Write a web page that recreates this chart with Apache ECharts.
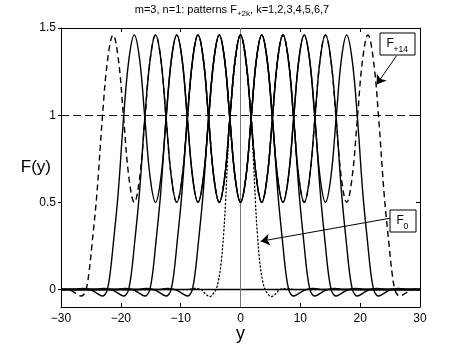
<!DOCTYPE html>
<html>
<head>
<meta charset="utf-8">
<script src="https://cdn.jsdelivr.net/npm/echarts@6/dist/echarts.min.js"></script>
<style>
html,body{margin:0;padding:0;background:#fff;}
#c{width:464px;height:348px;}
</style>
</head>
<body>
<div id="c"></div>
<script>
// ---- data ----
const titleText = ['m=3, n=1: patterns F', '+2k', ', k=1,2,3,4,5,6,7'];
const xTickMin = -30, xTickMax = 30, xTickStep = 10;
const yTickValues = [0, 0.5, 1, 1.5];
const yRange = [-0.1, 1.5];
const refLevelDashed = 1;
const refLevelSolid = 0;

// dotted pattern F0 (single peak)
const pat1 = [[-30,0],[-9,0],[-7.8,0.006],[-6.6,0],[-5.7,-0.03],[-5.1,-0.04],[-4.6,-0.025],[-4.1,0],[-3.7,0.05],[-3.25,0.15],[-2.8,0.33],[-2.5,0.5],[-2.2,0.72],[-1.8,0.98],[-1.4,1.13],[-0.8,1.33],[0,1.46],
  [0.8,1.33],[1.4,1.13],[1.8,0.98],[2.2,0.72],[2.5,0.5],[2.8,0.33],[3.25,0.15],[3.7,0.05],[4.1,0],[4.6,-0.025],[5.1,-0.04],[5.7,-0.03],[6.6,0],[7.8,0.006],[9,0],[30,0]];

// solid patterns
const pat2 = [[-30,0],[-13.75,0],[-12.25,0.006],[-10.95,0],[-9.85,-0.02],[-8.9,-0.037],[-8.45,-0.028],[-8.05,0],[-7.6,0.09],[-7.1,0.25],[-6.25,0.55],[-5.35,0.98],[-4.45,1.32],[-3.55,1.46],
  [-2.66,1.32],[-1.78,0.98],[-0.89,0.64],[0,0.5],[0.89,0.64],[1.78,0.98],[2.66,1.32],[3.55,1.46],
  [4.45,1.32],[5.35,0.98],[6.25,0.55],[7.1,0.25],[7.6,0.09],[8.05,0],[8.45,-0.028],[8.9,-0.037],[9.85,-0.02],[10.95,0],[12.25,0.006],[13.75,0],[30,0]];

const pat3 = [[-30,0],[-17.3,0],[-15.8,0.006],[-14.5,0],[-13.4,-0.02],[-12.45,-0.037],[-12.0,-0.028],[-11.6,0],[-11.15,0.09],[-10.65,0.25],[-9.8,0.55],[-8.9,0.98],[-8.0,1.32],[-7.1,1.46],
  [-6.21,1.32],[-5.33,0.98],[-4.44,0.64],[-3.55,0.5],[-2.66,0.64],[-1.78,0.98],[-0.89,1.32],[0,1.46],
  [0.89,1.32],[1.78,0.98],[2.66,0.64],[3.55,0.5],[4.44,0.64],[5.33,0.98],[6.21,1.32],[7.1,1.46],
  [8.0,1.32],[8.9,0.98],[9.8,0.55],[10.65,0.25],[11.15,0.09],[11.6,0],[12.0,-0.028],[12.45,-0.037],[13.4,-0.02],[14.5,0],[15.8,0.006],[17.3,0],[30,0]];

const pat4 = [[-30,0],[-20.85,0],[-19.35,0.006],[-18.05,0],[-16.95,-0.02],[-16.0,-0.037],[-15.55,-0.028],[-15.15,0],[-14.7,0.09],[-14.2,0.25],[-13.35,0.55],[-12.45,0.98],[-11.55,1.32],[-10.65,1.46],
  [-9.76,1.32],[-8.88,0.98],[-7.99,0.64],[-7.1,0.5],[-6.21,0.64],[-5.33,0.98],[-4.44,1.32],[-3.55,1.46],
  [-2.66,1.32],[-1.78,0.98],[-0.89,0.64],[0,0.5],[0.89,0.64],[1.78,0.98],[2.66,1.32],[3.55,1.46],
  [4.44,1.32],[5.33,0.98],[6.21,0.64],[7.1,0.5],[7.99,0.64],[8.88,0.98],[9.76,1.32],[10.65,1.46],
  [11.55,1.32],[12.45,0.98],[13.35,0.55],[14.2,0.25],[14.7,0.09],[15.15,0],[15.55,-0.028],[16.0,-0.037],[16.95,-0.02],[18.05,0],[19.35,0.006],[20.85,0],[30,0]];

const pat5 = [[-30,0],[-24.4,0],[-22.9,0.006],[-21.6,0],[-20.5,-0.02],[-19.55,-0.037],[-19.1,-0.028],[-18.7,0],[-18.25,0.09],[-17.75,0.25],[-16.9,0.55],[-16.0,0.98],[-15.1,1.32],[-14.2,1.46],
  [-13.31,1.32],[-12.43,0.98],[-11.54,0.64],[-10.65,0.5],[-9.76,0.64],[-8.88,0.98],[-7.99,1.32],[-7.1,1.46],
  [-6.21,1.32],[-5.33,0.98],[-4.44,0.64],[-3.55,0.5],[-2.66,0.64],[-1.78,0.98],[-0.89,1.32],[0,1.46],
  [0.89,1.32],[1.78,0.98],[2.66,0.64],[3.55,0.5],[4.44,0.64],[5.33,0.98],[6.21,1.32],[7.1,1.46],
  [7.99,1.32],[8.88,0.98],[9.76,0.64],[10.65,0.5],[11.54,0.64],[12.43,0.98],[13.31,1.32],[14.2,1.46],
  [15.1,1.32],[16.0,0.98],[16.9,0.55],[17.75,0.25],[18.25,0.09],[18.7,0],[19.1,-0.028],[19.55,-0.037],[20.5,-0.02],[21.6,0],[22.9,0.006],[24.4,0],[30,0]];

const pat6 = [[-30,0],[-27.95,0],[-26.45,0.006],[-25.15,0],[-24.05,-0.02],[-23.1,-0.037],[-22.65,-0.028],[-22.25,0],[-21.8,0.09],[-21.3,0.25],[-20.45,0.55],[-19.55,0.98],[-18.65,1.32],[-17.75,1.46],
  [-16.86,1.32],[-15.98,0.98],[-15.09,0.64],[-14.2,0.5],[-13.31,0.64],[-12.43,0.98],[-11.54,1.32],[-10.65,1.46],
  [-9.76,1.32],[-8.88,0.98],[-7.99,0.64],[-7.1,0.5],[-6.21,0.64],[-5.33,0.98],[-4.44,1.32],[-3.55,1.46],
  [-2.66,1.32],[-1.78,0.98],[-0.89,0.64],[0,0.5],[0.89,0.64],[1.78,0.98],[2.66,1.32],[3.55,1.46],
  [4.44,1.32],[5.33,0.98],[6.21,0.64],[7.1,0.5],[7.99,0.64],[8.88,0.98],[9.76,1.32],[10.65,1.46],
  [11.54,1.32],[12.43,0.98],[13.31,0.64],[14.2,0.5],[15.09,0.64],[15.98,0.98],[16.86,1.32],[17.75,1.46],
  [18.65,1.32],[19.55,0.98],[20.45,0.55],[21.3,0.25],[21.8,0.09],[22.25,0],[22.65,-0.028],[23.1,-0.037],[24.05,-0.02],[25.15,0],[26.45,0.006],[27.95,0],[30,0]];

// dashed pattern F+14
const pat7 = [[-30,0.003],[-28.7,0],[-27.6,-0.02],[-26.65,-0.037],[-26.2,-0.028],[-25.8,0],[-25.35,0.09],[-24.85,0.25],[-24.0,0.55],[-23.1,0.98],[-22.2,1.32],[-21.3,1.46],
  [-20.41,1.32],[-19.53,0.98],[-18.64,0.64],[-17.75,0.5],[-16.86,0.64],[-15.98,0.98],[-15.09,1.32],[-14.2,1.46],
  [-13.31,1.32],[-12.43,0.98],[-11.54,0.64],[-10.65,0.5],[-9.76,0.64],[-8.88,0.98],[-7.99,1.32],[-7.1,1.46],
  [-6.21,1.32],[-5.33,0.98],[-4.44,0.64],[-3.55,0.5],[-2.66,0.64],[-1.78,0.98],[-0.89,1.32],[0,1.46],
  [0.89,1.32],[1.78,0.98],[2.66,0.64],[3.55,0.5],[4.44,0.64],[5.33,0.98],[6.21,1.32],[7.1,1.46],
  [7.99,1.32],[8.88,0.98],[9.76,0.64],[10.65,0.5],[11.54,0.64],[12.43,0.98],[13.31,1.32],[14.2,1.46],
  [15.09,1.32],[15.98,0.98],[16.86,0.64],[17.75,0.5],[18.64,0.64],[19.53,0.98],[20.41,1.32],[21.3,1.46],
  [22.2,1.32],[23.1,0.98],[24.0,0.55],[24.85,0.25],[25.35,0.09],[25.8,0],[26.2,-0.028],[26.65,-0.037],[27.6,-0.02],[28.7,0],[30,0.003]];

// annotation arrows (data coordinates: from label box to curve)
const arrowF14 = [[26.07, 1.341], [22.76, 1.176]];
const arrowF0 = [[24.99, 0.409], [3.38, 0.277]];

// ---- chart ----
const FONT = '"Liberation Sans", Arial, Helvetica, sans-serif';
const chart = echarts.init(document.getElementById('c'), null, {renderer: 'canvas'});

function minusFmt(v) { return v < 0 ? '\u2212' + Math.abs(v) : String(v); }

const solidStyle = {color: '#000', width: 1.4};
function solidSeries(name, data) {
  return {name, type: 'line', data, smooth: 0.4, symbol: 'none', lineStyle: solidStyle, silent: true, z: 3};
}

const option = {
  animation: false,
  backgroundColor: '#fff',
  title: {
    text: '{a|' + titleText[0] + '}{s|' + titleText[1] + '}{a|' + titleText[2] + '}',
    left: 'center', top: 4, padding: 0,
    textStyle: {
      fontWeight: 'normal',
      rich: {
        a: {fontSize: 11, fontWeight: 'normal', fontFamily: FONT, color: '#000', lineHeight: 14, verticalAlign: 'top'},
        s: {fontSize: 8, fontWeight: 'normal', fontFamily: FONT, color: '#000', lineHeight: 10, padding: [11, 0, 0, 0], verticalAlign: 'bottom'}
      }
    }
  },
  grid: {left: 61, right: 44, top: 28, bottom: 39, containLabel: false},
  xAxis: [
    {type: 'value', position: 'bottom', min: xTickMin, max: xTickMax, interval: xTickStep,
     axisLine: {show: true, onZero: false, lineStyle: {color: '#000', width: 1}},
     axisTick: {show: true, inside: true, length: 4, lineStyle: {color: '#000'}},
     axisLabel: {color: '#000', fontSize: 12, fontFamily: FONT, margin: 6, formatter: minusFmt},
     splitLine: {show: false},
     name: 'y', nameLocation: 'middle', nameGap: 18, nameMoveOverlap: false,
     nameTextStyle: {fontSize: 18, fontFamily: FONT, color: '#000', verticalAlign: 'top'}},
    {type: 'value', position: 'top', min: xTickMin, max: xTickMax, interval: xTickStep,
     axisLine: {show: true, onZero: false, lineStyle: {color: '#000', width: 1}},
     axisTick: {show: true, inside: true, length: 4, lineStyle: {color: '#000'}},
     axisLabel: {show: false}, splitLine: {show: false}}
  ],
  yAxis: [
    {type: 'value', position: 'left', min: yRange[0], max: yRange[1],
     axisLine: {show: true, onZero: false, lineStyle: {color: '#000', width: 1}},
     axisTick: {show: true, inside: false, length: 3, customValues: yTickValues, lineStyle: {color: '#000'}},
     axisLabel: {customValues: yTickValues, color: '#000', fontSize: 12, fontFamily: FONT, margin: 5,
                 formatter: v => String(v)},
     splitLine: {show: false},
     name: 'F(y)', nameLocation: 'middle', nameRotate: 0, nameGap: 10, nameMoveOverlap: false,
     nameTextStyle: {fontSize: 17, fontFamily: FONT, color: '#000', align: 'right', padding: [0, 0, 16, 0]}},
    {type: 'value', position: 'right', min: yRange[0], max: yRange[1],
     axisLine: {show: true, onZero: false, lineStyle: {color: '#000', width: 1}},
     axisTick: {show: true, inside: true, length: 4, customValues: yTickValues, lineStyle: {color: '#000'}},
     axisLabel: {show: false}, splitLine: {show: false}}
  ],
  series: [
    {name: 'F0', type: 'line', data: pat1, smooth: 0.4, symbol: 'none', silent: true, z: 4,
     lineStyle: {color: '#000', width: 1.3, type: [1.2, 2.6], cap: 'round'},
     markLine: {
       silent: true, symbol: ['none', 'none'], label: {show: false}, z: 2,
       data: [
         [{coord: [xTickMin, refLevelDashed], lineStyle: {color: '#111', width: 1, type: [8, 4]}}, {coord: [xTickMax, refLevelDashed]}],
         [{coord: [xTickMin, refLevelSolid], lineStyle: {color: '#000', width: 1.3, type: 'solid'}}, {coord: [xTickMax, refLevelSolid]}],
         [{coord: [0, yRange[0]], lineStyle: {color: '#777', width: 1, type: 'solid'}}, {coord: [0, yRange[1]]}]
       ]
     }},
    solidSeries('F2', pat2),
    solidSeries('F4', pat3),
    solidSeries('F6', pat4),
    solidSeries('F8', pat5),
    solidSeries('F10', pat6),
    {name: 'F14', type: 'line', data: pat7, smooth: 0.4, symbol: 'none', silent: true, z: 3,
     lineStyle: {color: '#000', width: 1.4, type: [6, 4]},
     markLine: {
       silent: true, symbol: ['none', 'arrow'], symbolSize: 9, label: {show: false}, z: 6,
       lineStyle: {color: '#000', width: 1, type: 'solid'},
       data: [
         [{coord: arrowF14[0]}, {coord: arrowF14[1]}],
         [{coord: arrowF0[0]}, {coord: arrowF0[1]}]
       ]
     }}
  ],
  graphic: [
    {type: 'rect', shape: {x: 380, y: 33, width: 35, height: 22}, style: {fill: '#fff', stroke: '#000', lineWidth: 1}, z: 100},
    {type: 'text', x: 386.5, y: 43.5, style: {text: 'F', font: '12px ' + FONT, fill: '#000', textVerticalAlign: 'middle'}, z: 101},
    {type: 'text', x: 393.5, y: 49.5, style: {text: '+14', font: '8.5px ' + FONT, fill: '#000', textVerticalAlign: 'middle'}, z: 101},
    {type: 'rect', shape: {x: 390, y: 210, width: 26, height: 22}, style: {fill: '#fff', stroke: '#000', lineWidth: 1}, z: 100},
    {type: 'text', x: 396.5, y: 220.5, style: {text: 'F', font: '12px ' + FONT, fill: '#000', textVerticalAlign: 'middle'}, z: 101},
    {type: 'text', x: 403.5, y: 226.5, style: {text: '0', font: '8.5px ' + FONT, fill: '#000', textVerticalAlign: 'middle'}, z: 101}
  ]
};
chart.setOption(option);
</script>
</body>
</html>
